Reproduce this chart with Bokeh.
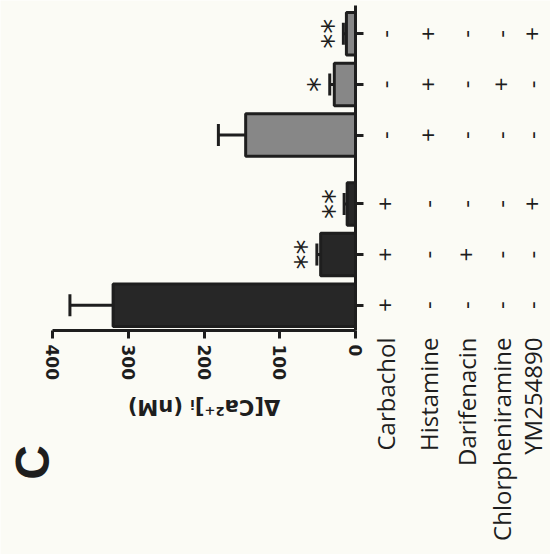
import math
from bokeh.plotting import figure
from bokeh.models import (ColumnDataSource, Range1d, LinearAxis, FixedTicker,
                          LabelSet, Label, Whisker, TeeHead)
from bokeh.core.properties import value
from bokeh.embed import file_html
from bokeh.resources import INLINE

# ---------------- data ----------------
bar_ids = ["b1", "b2", "b3", "b4", "b5", "b6"]          # bottom -> top
ca_values = [320, 46, 11, 145, 28, 12]                  # Δ[Ca2+]i (nM)
ca_errors = [57, 5, 4, 36, 6, 4]
bar_group = [0, 0, 0, 1, 1, 1]
significance = ["", "**", "**", "", "*", "**"]
treatments = ["Carbachol", "Histamine", "Darifenacin", "Chlorpheniramine", "YM254890"]
treatment_signs = [
    ["+", "+", "+", "-", "-", "-"],
    ["-", "-", "-", "+", "+", "+"],
    ["-", "+", "-", "-", "-", "-"],
    ["-", "-", "-", "-", "+", "-"],
    ["-", "-", "+", "-", "-", "+"],
]
value_ticks = [0, 100, 200, 300, 400]
axis_label = "Δ[Ca²⁺]ᵢ (nM)"
panel_label = "C"

# ---------------- styles / layout ----------------
W, H = 550, 554
BG = "#fbfbf5"
INK = "#1e1e1e"
group_colors = ["#272727", "#878787"]
group_gap = 0.36
col_px = [30, 73, 111, 146, 177]

# pixel anchors of the plotting area inside the canvas
X_MAX_PX, X_ZERO_PX = 52, 355      # where 400 and 0 fall
Y_TOP_PX, Y_ZERO_PX = 8, 330       # where top of bar slots and baseline fall

n_slots = len(bar_ids) + group_gap
xmax = max(value_ticks)
ppx = (X_ZERO_PX - X_MAX_PX) / xmax
ppy = (Y_ZERO_PX - Y_TOP_PX) / n_slots
x_range = Range1d(xmax + X_MAX_PX / ppx, -(W - X_ZERO_PX) / ppx)
y_range = Range1d(-(H - Y_ZERO_PX) / ppy, n_slots + Y_TOP_PX / ppy)

ypos = [i + 0.5 + group_gap * g for i, g in enumerate(bar_group)]
tops = [v + e for v, e in zip(ca_values, ca_errors)]

src = ColumnDataSource(dict(
    y=ypos, v=ca_values, top=tops,
    color=[group_colors[g] for g in bar_group],
    sig=significance,
))

p = figure(width=W, height=H, x_range=x_range, y_range=y_range,
           output_backend="svg", toolbar_location=None,
           x_axis_location=None, y_axis_location=None,
           min_border=0)
p.background_fill_color = BG
p.border_fill_color = BG
p.outline_line_color = None
p.xgrid.visible = False
p.ygrid.visible = False

# value axis (drawn along the baseline of the category slots)
xa = LinearAxis(ticker=FixedTicker(ticks=value_ticks), fixed_location=0,
                bounds=(0, xmax))
xa.axis_line_width = 3
xa.axis_line_color = INK
xa.major_tick_line_width = 3
xa.major_tick_line_color = INK
xa.major_tick_out = 8
xa.major_tick_in = 0
xa.minor_tick_line_color = None
xa.major_label_orientation = -math.pi / 2
xa.major_label_standoff = 6
xa.major_label_text_font = "DejaVu Sans"
xa.major_label_text_font_style = "bold"
xa.major_label_text_font_size = "17px"
xa.major_label_text_color = INK
p.add_layout(xa, "below")

# category axis (at value 0)
ya = LinearAxis(ticker=FixedTicker(ticks=ypos), fixed_location=0,
                bounds=(0, n_slots + 3 / ppy))
ya.axis_line_width = 3
ya.axis_line_color = INK
ya.major_tick_line_width = 3
ya.major_tick_line_color = INK
ya.major_tick_out = 8
ya.major_tick_in = 0
ya.minor_tick_line_color = None
ya.major_label_text_color = None
p.add_layout(ya, "right")

# bars
p.hbar(y="y", left=0, right="v", height=0.84, fill_color="color",
       line_color=INK, line_width=3, source=src)

# error bars
wh = Whisker(source=src, base="y", lower="v", upper="top", dimension="width",
             line_width=3, line_color=INK, lower_head=None,
             upper_head=TeeHead(size=22, line_width=3, line_color=INK))
p.add_layout(wh)

# significance stars
p.add_layout(LabelSet(source=src, x="top", y="y", text="sig", x_offset=-11,
                      angle=math.pi / 2, text_align="center", text_baseline="middle",
                      text_font=value("DejaVu Sans"), text_font_size=value("30px"),
                      text_color=INK))

# +/- table
tx, ty, tt, toff = [], [], [], []
for j, row in enumerate(treatment_signs):
    for i, s in enumerate(row):
        tx.append(0)
        ty.append(ypos[i])
        tt.append(s)
        toff.append(col_px[j])
tsrc = ColumnDataSource(dict(x=tx, y=ty, t=tt, off=toff))
p.add_layout(LabelSet(source=tsrc, x="x", y="y", text="t", x_offset="off",
                      angle=math.pi / 2, text_align="center", text_baseline="middle",
                      text_font=value("Open Sans"), text_font_size=value("24px"),
                      text_color=INK))

# treatment names
nsrc = ColumnDataSource(dict(x=[0] * len(treatments), y=[0] * len(treatments),
                             t=treatments, off=col_px))
p.add_layout(LabelSet(source=nsrc, x="x", y="y", text="t", x_offset="off", y_offset=-7,
                      angle=math.pi / 2, text_align="right", text_baseline="middle",
                      text_font=value("Open Sans"), text_font_size=value("24px"),
                      text_color=INK))

# axis title (upside down)
p.add_layout(Label(x=xmax / 2, y=0, y_offset=-76, text=axis_label, angle=math.pi,
                   text_align="center", text_baseline="middle",
                   text_font="DejaVu Sans", text_font_style="bold",
                   text_font_size="21px", text_color=INK))

# panel letter
p.add_layout(Label(x=xmax, x_offset=-20, y=0, y_offset=-132, text=panel_label,
                   angle=math.pi / 2, text_align="center", text_baseline="middle",
                   text_font="Liberation Sans", text_font_style="bold",
                   text_font_size="48px", text_color=INK))

open("out.html", "w").write(file_html(p, INLINE))
